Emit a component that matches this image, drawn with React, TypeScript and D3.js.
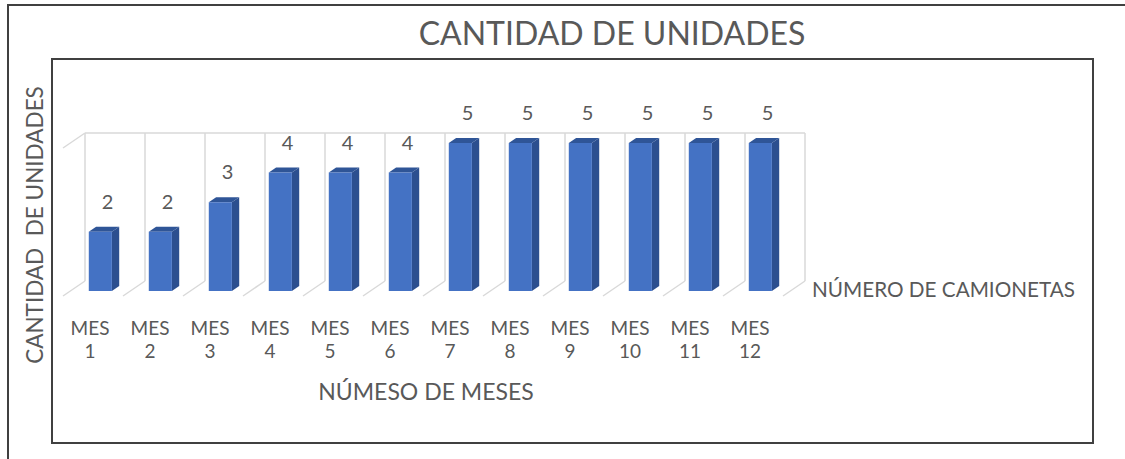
import React, { useEffect, useRef } from 'react';
import * as d3 from 'd3';

const months = ['1', '2', '3', '4', '5', '6', '7', '8', '9', '10', '11', '12'];
const units = [2, 2, 3, 4, 4, 4, 5, 5, 5, 5, 5, 5];
const seriesName = 'NÚMERO DE CAMIONETAS';
const chartTitle = 'CANTIDAD DE UNIDADES';
const yTitle = 'CANTIDAD  DE UNIDADES';
const xTitle = 'NÚMESO DE MESES';

const W = 1125;
const H = 459;
const FONT = 'Lato, "Open Sans", sans-serif';
const TXT = '#595959';

const App: React.FC = () => {
  const svgRef = useRef<SVGSVGElement>(null);

  useEffect(() => {
    if (!svgRef.current) return;
    const svg = d3.select(svgRef.current);
    svg.selectAll('*').remove();

    // outer picture frame (cropped: only top and left visible)
    svg.append('path')
      .attr('d', `M8,${H} L8,5 L${W},5`)
      .attr('fill', 'none').attr('stroke', '#404040').attr('stroke-width', 2);

    // chart area frame
    svg.append('rect')
      .attr('x', 52).attr('y', 59).attr('width', 1041).attr('height', 384)
      .attr('fill', '#fff').attr('stroke', '#404040').attr('stroke-width', 2);

    // back wall in 2D, depth offsets for pseudo 3D
    const x = d3.scaleBand<string>().domain(months).range([85, 805]);
    const y = d3.scaleLinear().domain([0, 5]).range([281, 133]);
    const DX = -22;
    const DY = 15;
    const P = (px: number, v: number, z: number): [number, number] => [px + DX * z, y(v) + DY * z];

    const grid = svg.append('g').attr('stroke', '#d9d9d9').attr('stroke-width', 1.5).attr('fill', 'none');
    // top edge of back wall
    grid.append('line').attr('x1', 85).attr('x2', 805).attr('y1', y(5)).attr('y2', y(5));
    // vertical category lines on the back wall
    const bounds = months.map(m => x(m)!).concat([805]);
    bounds.forEach(b => {
      grid.append('line').attr('x1', b).attr('x2', b).attr('y1', y(5)).attr('y2', y(0));
      const f = P(b, 0, 1);
      grid.append('line').attr('x1', b).attr('y1', y(0)).attr('x2', f[0]).attr('y2', f[1]);
    });
    // left side wall edge for value 5
    const lt = P(85, 5, 1);
    grid.append('line').attr('x1', 85).attr('y1', y(5)).attr('x2', lt[0]).attr('y2', lt[1]);

    // bars
    const bw = x.bandwidth() * 0.385;
    const z0 = 1 / 3;
    const z1 = 2 / 3;
    const bars = svg.append('g');
    units.forEach((v, i) => {
      const cx = x(months[i])! + x.bandwidth() / 2;
      const l = cx - bw / 2;
      const r = cx + bw / 2;
      const fTL = P(l, v, z1), fTR = P(r, v, z1), fBL = P(l, 0, z1), fBR = P(r, 0, z1);
      const bTL = P(l, v, z0), bTR = P(r, v, z0), bBR = P(r, 0, z0);
      const poly = (pts: [number, number][]) => 'M' + pts.map(p => p.join(',')).join('L') + 'Z';
      bars.append('path').attr('d', poly([fTR, bTR, bBR, fBR])).attr('fill', '#2c4f8f');
      bars.append('path').attr('d', poly([fTL, fTR, bTR, bTL])).attr('fill', '#2f5597');
      bars.append('path').attr('d', poly([fTL, fTR, fBR, fBL])).attr('fill', '#4472c4');
      // data label
      const lp = P(cx, v, z0);
      svg.append('text')
        .attr('x', lp[0]).attr('y', lp[1] - 18)
        .attr('text-anchor', 'middle')
        .attr('font-family', FONT).attr('font-size', 20).attr('fill', TXT)
        .text(v);
      // category label
      const cp = P(cx, 0, 1);
      const t = svg.append('text')
        .attr('text-anchor', 'middle')
        .attr('font-family', FONT).attr('font-size', 19).attr('fill', TXT);
      t.append('tspan').attr('x', cp[0] - 3).attr('y', 335).text('MES');
      t.append('tspan').attr('x', cp[0] - 3).attr('y', 358).text(months[i]);
    });

    // titles
    svg.append('text')
      .attr('x', 612).attr('y', 45).attr('text-anchor', 'middle')
      .attr('font-family', FONT).attr('font-size', 32).attr('fill', TXT)
      .text(chartTitle);
    svg.append('text')
      .attr('transform', 'translate(43,225) rotate(-90)').attr('text-anchor', 'middle')
      .attr('font-family', FONT).attr('font-size', 22.5).attr('fill', TXT)
      .style('white-space', 'pre')
      .text(yTitle);
    svg.append('text')
      .attr('x', 426).attr('y', 400).attr('text-anchor', 'middle')
      .attr('font-family', FONT).attr('font-size', 23).attr('fill', TXT)
      .text(xTitle);
    // legend
    svg.append('text')
      .attr('x', 812).attr('y', 297)
      .attr('font-family', FONT).attr('font-size', 20.7).attr('fill', TXT)
      .text(seriesName);
  }, []);

  return (
    <svg ref={svgRef} width={W} height={H}
      style={{ position: 'absolute', left: 0, top: 0, background: '#fff' }} />
  );
};

export default App;
